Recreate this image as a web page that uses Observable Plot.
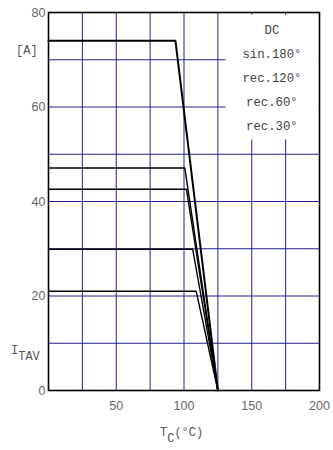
<!DOCTYPE html>
<html>
<head>
<meta charset="utf-8">
<script src="https://cdn.jsdelivr.net/npm/d3@7"></script>
<script src="https://cdn.jsdelivr.net/npm/@observablehq/plot@0.6"></script>
<style>
  html, body { margin: 0; padding: 0; background: #fff; }
  #chart { width: 333px; height: 450px; }
</style>
</head>
<body>
<div id="chart"></div>
<script>
// ---- data ----
const series = ["DC", "sin.180°", "rec.120°", "rec.60°", "rec.30°"];
const currentLevels = [74, 47.1, 42.6, 29.9, 21.0];   // I_TAV [A] plateau
const kneeTemps = [93.7, 100.6, 101.8, 106.4, 109.0];  // T_C where derating starts
const tcMax = 125;                                     // I_TAV = 0 at T_C = 125 °C
const xTicks = [50, 100, 150, 200];
const yTicks = [0, 20, 40, 60, 80];
const xGrid = [25, 50, 75, 100, 125, 150, 175];
const yGrid = [10, 20, 30, 40, 50, 60, 70];

// build line table
const rows = [];
series.forEach((s, i) => {
  rows.push({ s, i, t: 0, a: currentLevels[i] });
  rows.push({ s, i, t: kneeTemps[i], a: currentLevels[i] });
  rows.push({ s, i, t: tcMax, a: 0 });
});

const legendRows = series.map((s, i) => ({ s, i }));
const gridColor = "#22228c";

const plot = Plot.plot({
  width: 333,
  height: 450,
  marginLeft: 48,
  marginRight: 14,
  marginTop: 12,
  marginBottom: 60,
  style: { fontFamily: "Liberation Sans, Arial, sans-serif", fontSize: "12px", background: "#fff" },
  x: { domain: [0, 200] },
  y: { domain: [0, 80] },
  marks: [
    Plot.ruleX(xGrid, { stroke: gridColor, strokeWidth: 1 }),
    Plot.ruleY(yGrid, { stroke: gridColor, strokeWidth: 1 }),
    // legend background box (covers grid)
    Plot.rect([{}], { x1: 131, x2: 199.5, y1: 53, y2: 79.4, fill: "#fff" }),
    Plot.line(rows, {
      x: "t", y: "a", z: "s", stroke: "#000",
      strokeWidth: d => d.i === 0 ? 2 : 1.4,
      strokeLinejoin: "miter"
    }),
    Plot.frame({ stroke: "#000", strokeWidth: 1.6 }),
    Plot.axisX({ ticks: xTicks, tickSize: 0, tickPadding: 11, fill: "#666", label: null, fontSize: 12.5 }),
    Plot.axisY({ ticks: yTicks, tickSize: 0, tickPadding: 3, fill: "#666", label: null, fontSize: 12.5 })
  ]
});

const svg = d3.select(plot);
const xs = plot.scale("x");
const mono = "Liberation Mono, Courier New, monospace";

// legend labels (inside box, top-right)
const lx = (xs.apply(131) + xs.apply(199.5)) / 2;
legendRows.forEach(({ s, i }) => {
  svg.append("text")
    .attr("x", lx)
    .attr("y", 30 + i * 24)
    .attr("dy", "0.35em")
    .attr("text-anchor", "middle")
    .attr("font-family", mono)
    .attr("font-size", 12.3)
    .attr("fill", "#444")
    .text(s);
});

// y unit "[A]"
svg.append("text").attr("x", 16).attr("y", 54).attr("text-anchor", "start")
  .attr("font-family", mono).attr("font-size", 12).attr("fill", "#555").text("[A]");
// y label I_TAV
const yl = svg.append("text").attr("x", 11).attr("y", 354).attr("text-anchor", "start")
  .attr("font-family", mono).attr("font-size", 12).attr("fill", "#555");
yl.append("tspan").text("I");
yl.append("tspan").attr("dy", 6).text("TAV");
// x label T_C(°C)
const xl = svg.append("text").attr("x", 160).attr("y", 436).attr("text-anchor", "start")
  .attr("font-family", mono).attr("font-size", 12).attr("fill", "#555");
xl.append("tspan").text("T");
xl.append("tspan").attr("dy", 6).text("C");
xl.append("tspan").attr("dy", -6).text("(°C)");

document.getElementById("chart").appendChild(plot);
</script>
</body>
</html>
